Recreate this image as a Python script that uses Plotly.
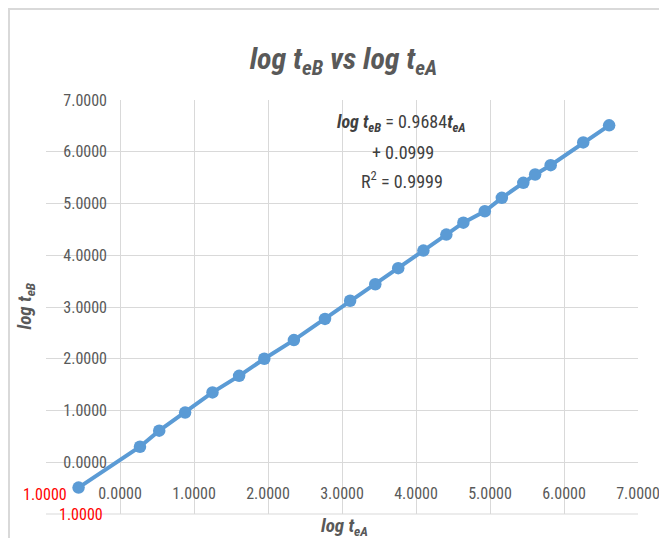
import plotly.graph_objects as go

# Data
log_teA = [-0.56, 0.27, 0.53, 0.88, 1.25, 1.61, 1.95, 2.35, 2.77, 3.11, 3.45,
           3.76, 4.10, 4.41, 4.64, 4.93, 5.16, 5.45, 5.61, 5.82, 6.26, 6.61]
log_teB = [-0.49, 0.30, 0.61, 0.96, 1.35, 1.67, 2.00, 2.36, 2.77, 3.12, 3.44,
           3.75, 4.09, 4.40, 4.63, 4.85, 5.11, 5.40, 5.56, 5.74, 6.18, 6.51]

tick_vals = [-1, 0, 1, 2, 3, 4, 5, 6, 7]
tick_text = ["", "0.0000", "1.0000", "2.0000",
             "3.0000", "4.0000", "5.0000", "6.0000", "7.0000"]
edge_label = "1.0000"   # label shown in red at the -1 position

FONT = "Liberation Sans Narrow, Roboto Condensed, Liberation Sans, sans-serif"
BLUE = "#5B9BD5"
GRID = "#d9d9d9"
TXT = "#595959"

fig = go.Figure()
fig.add_trace(go.Scatter(
    x=log_teA, y=log_teB, mode="lines+markers",
    line=dict(color=BLUE, width=4),
    marker=dict(color=BLUE, size=12.5),
    showlegend=False, hoverinfo="skip",
))

fig.update_layout(
    width=659, height=530,
    margin=dict(l=38, r=29, t=92, b=24, autoexpand=False),
    paper_bgcolor="white", plot_bgcolor="white",
    font=dict(family=FONT, color=TXT, size=16),
    title=dict(text="<b><i>log t<sub>eB</sub> vs log t<sub>eA</sub></i></b>",
               x=0.509, xanchor="center", y=0.905, yanchor="middle",
               font=dict(size=30, color=TXT, family=FONT)),
    xaxis=dict(range=[-1, 7], tickvals=tick_vals, ticktext=tick_text,
               showgrid=True, gridcolor=GRID, gridwidth=1, zeroline=False,
               showline=False, ticks="", anchor="free", position=0.078,
               automargin=False,
               tickfont=dict(size=16, color=TXT)),
    yaxis=dict(range=[-1, 7], tickvals=tick_vals, ticktext=tick_text,
               showgrid=True, gridcolor=GRID, gridwidth=1, zeroline=False,
               showline=False, ticks="", anchor="free", position=0.125,
               ticklabelstandoff=13, automargin=False,
               tickfont=dict(size=16, color=TXT)),
    shapes=[
        dict(type="rect", xref="paper", yref="paper", x0=-0.0625, y0=-0.3,
             x1=1.3, y1=1.22, line=dict(color=GRID, width=2), layer="below"),
        dict(type="line", xref="paper", yref="paper", x0=0, x1=1, y0=0, y1=0,
             line=dict(color=GRID, width=1), layer="below"),
    ],
    annotations=[
        dict(text=edge_label, xref="paper", yref="paper", x=-0.002, y=0.046,
             xanchor="center", yanchor="middle", showarrow=False,
             font=dict(size=16, color="#ff0000", family=FONT)),
        dict(text=edge_label, xref="paper", yref="y", x=0.1, y=-1,
             xanchor="right", yanchor="middle", showarrow=False,
             font=dict(size=16, color="#ff0000", family=FONT)),
        dict(text="<b><i>log t<sub>eA</sub></i></b>", xref="paper", yref="paper",
             x=0.505, y=0.005, xanchor="center", yanchor="top", showarrow=False,
             font=dict(size=19, color=TXT, family=FONT)),
        dict(text="<b><i>log t<sub>eB</sub></i></b>", xref="paper", yref="paper",
             x=-0.035, y=0.502, xanchor="center", yanchor="middle", textangle=-90,
             showarrow=False, font=dict(size=19, color=TXT, family=FONT)),
        dict(text="<b><i>log t<sub>eB</sub></i></b> = 0.9684<b><i>t<sub>eA</sub></i></b>",
             xref="paper", yref="paper", x=0.601, y=0.944, xanchor="center",
             yanchor="middle", showarrow=False,
             font=dict(size=18, color="#404040", family=FONT)),
        dict(text="+ 0.0999",
             xref="paper", yref="paper", x=0.603, y=0.874, xanchor="center",
             yanchor="middle", showarrow=False,
             font=dict(size=18, color="#404040", family=FONT)),
        dict(text="R<sup>2</sup> = 0.9999",
             xref="paper", yref="paper", x=0.601, y=0.807, xanchor="center",
             yanchor="middle", showarrow=False,
             font=dict(size=18, color="#404040", family=FONT)),
    ],
)

fig.write_html("out.html")
